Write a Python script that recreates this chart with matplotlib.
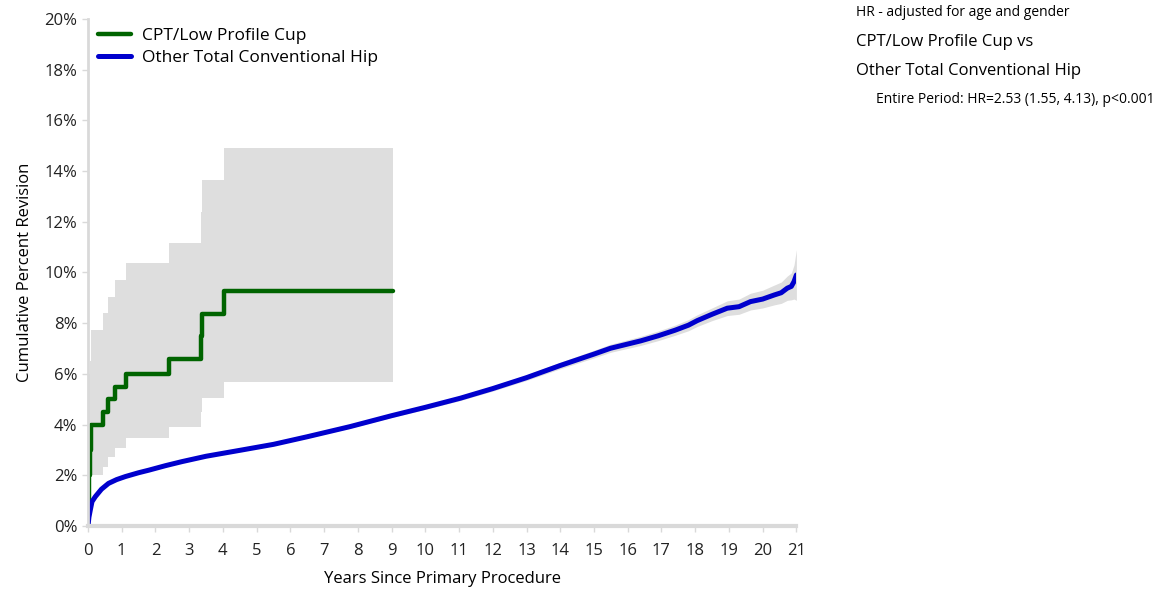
import matplotlib.pyplot as plt

plt.rcParams['font.family'] = ['Open Sans', 'DejaVu Sans']

# CPT/Low Profile Cup (Kaplan-Meier steps)
cpt_years = [0, 0.01, 0.02, 0.03, 0.05, 0.09, 0.45, 0.60, 0.80, 1.13, 2.40, 3.34, 3.37, 4.04, 9.03]
cpt_rev = [0, 0.5, 1.0, 2.0, 3.0, 3.98, 4.5, 5.0, 5.5, 6.0, 6.6, 7.5, 8.35, 9.25, 9.25]
cpt_lo = [0, 0.05, 0.2, 0.6, 1.0, 2.0, 2.34, 2.73, 3.06, 3.46, 3.89, 4.5, 5.04, 5.69, 5.69]
cpt_hi = [0, 3.5, 5.0, 6.0, 6.5, 7.73, 8.39, 9.05, 9.70, 10.36, 11.15, 12.4, 13.65, 14.9, 14.9]

# Other Total Conventional Hip
oth_years = [0, 0.03, 0.07, 0.12, 0.22, 0.4, 0.61, 0.85, 1.11, 1.5, 1.8, 2.3, 2.79, 3.5,
             4.57, 5.5, 6.5, 7.77, 9, 10.0, 11.04, 12, 13, 14, 15, 15.49, 16.38, 16.9,
             17.4, 17.8, 18.06, 18.5, 18.95, 19.3, 19.64, 20.0, 20.34, 20.55, 20.73, 20.85,
             20.93, 21.0]
oth_rev = [0, 0.35, 0.63, 0.96, 1.16, 1.45, 1.68, 1.83, 1.95, 2.1, 2.2, 2.38, 2.54, 2.75,
           3.0, 3.22, 3.52, 3.92, 4.35, 4.68, 5.04, 5.42, 5.85, 6.33, 6.78, 7.01, 7.3, 7.5,
           7.72, 7.92, 8.1, 8.35, 8.59, 8.65, 8.85, 8.95, 9.11, 9.2, 9.38, 9.45, 9.64, 9.9]
oth_lo = [0, 0.32, 0.6, 0.93, 1.13, 1.42, 1.65, 1.8, 1.92, 2.07, 2.17, 2.35, 2.51, 2.72,
          2.96, 3.18, 3.47, 3.86, 4.28, 4.6, 4.95, 5.32, 5.74, 6.2, 6.63, 6.85, 7.12, 7.31,
          7.52, 7.7, 7.87, 8.1, 8.3, 8.35, 8.52, 8.6, 8.72, 8.78, 8.9, 8.92, 8.95, 8.9]
oth_hi = [0, 0.38, 0.66, 0.99, 1.19, 1.48, 1.71, 1.86, 1.98, 2.13, 2.23, 2.41, 2.57, 2.78,
          3.04, 3.26, 3.57, 3.98, 4.42, 4.76, 5.13, 5.52, 5.96, 6.46, 6.93, 7.17, 7.48, 7.69,
          7.92, 8.14, 8.33, 8.6, 8.88, 8.95, 9.18, 9.3, 9.5, 9.62, 9.86, 9.98, 10.3, 10.9]

fig = plt.figure(figsize=(11.71, 5.91), dpi=100)
ax = fig.add_axes([0.0751, 0.110, 0.605, 0.858])

band = '#dedede'
ax.fill_between(cpt_years, cpt_lo, cpt_hi, step='post', color=band, lw=0)
ax.fill_between(oth_years, oth_lo, oth_hi, color=band, lw=0)
ax.step(cpt_years, cpt_rev, where='post', color='#006400', lw=3.2,
        label='CPT/Low Profile Cup', solid_capstyle='round')
ax.plot(oth_years, oth_rev, color='#0000cd', lw=3.6,
        label='Other Total Conventional Hip', solid_capstyle='round')

ax.set_xlim(0, 21)
ax.set_ylim(0, 20)
ax.set_xticks(range(0, 22))
ax.set_yticks(range(0, 21, 2))
ax.set_yticklabels([f'{v}%' for v in range(0, 21, 2)])
ax.tick_params(labelsize=12, colors='#222222', length=4, width=1, direction='out')
ax.tick_params(axis='both', color='#d9d9d9')
ax.tick_params(axis='x', pad=8)

for s in ['top', 'right']:
    ax.spines[s].set_visible(False)
ax.spines['left'].set_color('#d9d9d9')
ax.spines['left'].set_linewidth(2)
ax.spines['bottom'].set_color('#d9d9d9')
ax.spines['bottom'].set_linewidth(3)

ax.set_xlabel('Years Since Primary Procedure', fontsize=12, labelpad=9)
ax.set_ylabel('Cumulative Percent Revision', fontsize=12, labelpad=8)

leg = ax.legend(loc='upper left', frameon=False, fontsize=12.5, handlelength=1.9,
                handletextpad=0.6, borderaxespad=0.2, labelspacing=0.35,
                bbox_to_anchor=(0.0, 1.003))

fig.text(0.731, 0.979, 'HR - adjusted for age and gender', fontsize=10, va='center')
fig.text(0.731, 0.929, 'CPT/Low Profile Cup vs', fontsize=12, va='center')
fig.text(0.731, 0.880, 'Other Total Conventional Hip', fontsize=12, va='center')
fig.text(0.748, 0.831, 'Entire Period: HR=2.53 (1.55, 4.13), p<0.001', fontsize=10, va='center')

fig.savefig('out.png', dpi=100)
